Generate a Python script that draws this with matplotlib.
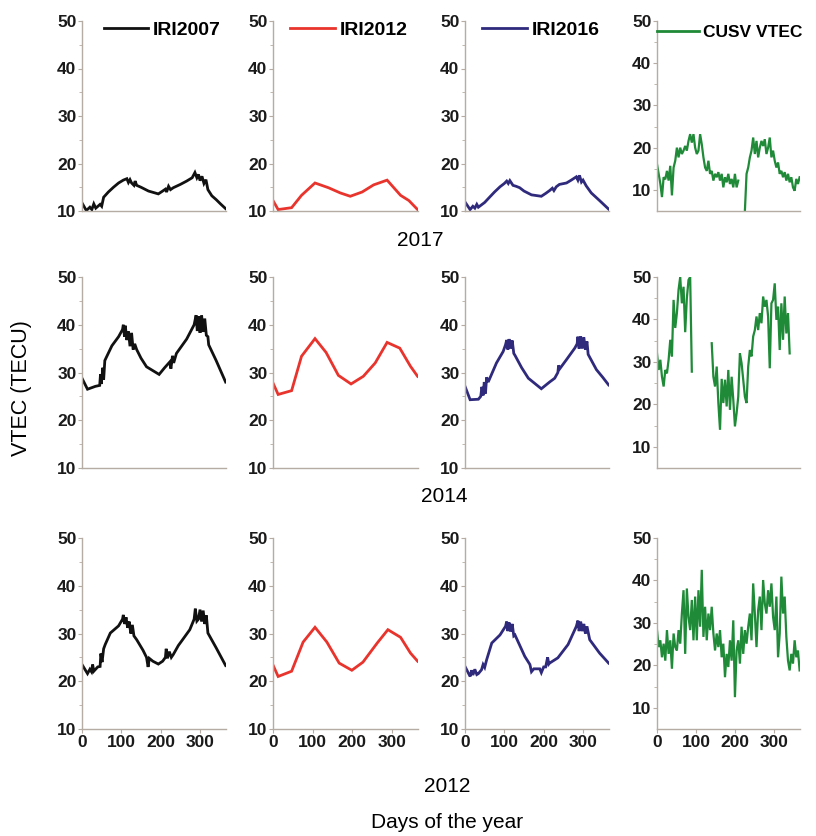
import matplotlib.pyplot as plt
import numpy as np

nan = np.nan

# ---- IRI2007 (black) ----
d07_2017 = [0, 11, 20, 25, 30, 35, 46, 50, 55, 67, 80, 93, 105, 114, 118, 122, 126, 132, 135, 139, 150, 169, 194, 205, 212, 215, 220, 225, 232, 250, 266, 280, 287, 292, 296, 300, 305, 310, 315, 320, 330, 341, 352, 365]
v07_2017 = [11.7, 10.1, 10.8, 10.3, 11.5, 10.6, 11.4, 11.0, 12.9, 14.0, 15.0, 15.9, 16.5, 16.8, 16.0, 16.6, 15.9, 15.4, 16.3, 15.4, 15.0, 14.2, 13.6, 14.2, 14.6, 14.0, 15.2, 14.5, 14.9, 15.6, 16.3, 17.0, 18.1, 17.0, 17.7, 16.4, 17.3, 15.8, 16.6, 14.5, 13.2, 12.4, 11.5, 10.5]
d07_2014 = [0, 14, 34, 45, 47, 49, 53, 55, 58, 62, 76, 93, 103, 105, 108, 110, 114, 118, 122, 126, 130, 134, 139, 150, 164, 196, 210, 223, 226, 230, 233, 240, 266, 285, 290, 293, 297, 300, 304, 308, 312, 316, 320, 322, 341, 365]
v07_2014 = [28.8, 26.5, 27.1, 27.3, 29.6, 27.6, 31.0, 28.5, 32.5, 33.2, 35.6, 37.5, 39.0, 40.0, 37.5, 39.8, 36.8, 38.6, 35.5, 38.3, 34.8, 36.0, 34.8, 33.0, 31.2, 29.6, 31.0, 32.2, 30.8, 33.5, 32.0, 34.0, 37.0, 40.0, 42.0, 38.7, 41.8, 38.3, 42.0, 38.5, 41.3, 37.8, 37.5, 35.8, 32.5, 28.0]
d07_2012 = [0, 14, 20, 24, 27, 30, 40, 46, 48, 51, 55, 59, 72, 93, 103, 105, 108, 112, 116, 120, 124, 128, 132, 139, 155, 164, 168, 171, 180, 194, 205, 212, 214, 217, 222, 227, 232, 245, 253, 274, 285, 288, 292, 296, 300, 304, 308, 312, 316, 320, 341, 365]
v07_2012 = [23.5, 21.6, 22.5, 22.0, 23.5, 22.1, 23.0, 23.1, 25.8, 24.0, 26.8, 27.7, 30.1, 31.6, 33.0, 33.9, 32.0, 33.4, 31.2, 32.5, 30.0, 31.8, 29.5, 28.7, 26.5, 25.0, 23.0, 24.8, 24.2, 23.6, 24.2, 25.0, 26.8, 24.8, 26.2, 25.0, 25.6, 27.5, 28.4, 30.8, 33.0, 35.2, 32.6, 33.0, 35.0, 32.5, 34.8, 32.0, 33.8, 30.1, 27.0, 23.3]

# ---- IRI2012 (red) ----
d12_2017 = [0, 13, 47, 72, 106, 140, 170, 195, 225, 254, 288, 322, 343, 365]
v12_2017 = [12.2, 10.3, 10.7, 13.3, 15.9, 14.9, 13.8, 13.1, 14.0, 15.5, 16.5, 13.3, 12.2, 10.3]
d12_2014 = [0, 13, 47, 72, 106, 134, 165, 197, 228, 258, 288, 320, 347, 365]
v12_2014 = [27.8, 25.4, 26.2, 33.4, 37.1, 34.2, 29.4, 27.6, 29.2, 32.0, 36.3, 35.1, 31.3, 29.2]
d12_2012 = [0, 13, 47, 76, 106, 136, 167, 199, 227, 263, 290, 322, 347, 365]
v12_2012 = [23.4, 21.0, 22.1, 28.2, 31.3, 28.2, 23.8, 22.3, 24.0, 28.0, 30.8, 29.2, 25.9, 24.2]

# ---- IRI2016 (blue) ----
d16_2017 = [0, 13, 20, 25, 30, 34, 42, 50, 59, 75, 89, 100, 106, 110, 114, 122, 130, 139, 150, 169, 194, 205, 215, 222, 226, 232, 240, 258, 270, 283, 287, 291, 296, 300, 308, 321, 342, 365]
v16_2017 = [11.9, 10.3, 11.0, 10.6, 11.4, 10.8, 11.3, 11.8, 12.6, 14.0, 15.1, 15.8, 16.3, 15.8, 16.4, 15.4, 15.2, 14.9, 14.2, 13.4, 13.1, 13.7, 14.3, 14.8, 14.3, 15.1, 15.6, 15.9, 16.5, 17.2, 16.5, 17.5, 16.1, 16.5, 15.3, 13.8, 12.2, 10.4]
d16_2014 = [0, 13, 34, 40, 43, 46, 49, 52, 55, 59, 80, 97, 103, 106, 109, 112, 116, 120, 124, 127, 144, 161, 194, 215, 228, 236, 238, 241, 258, 279, 285, 287, 290, 294, 298, 302, 306, 310, 313, 334, 350, 365]
v16_2014 = [27.1, 24.3, 24.4, 25.0, 27.0, 25.2, 28.0, 25.6, 29.0, 28.0, 32.0, 34.4, 35.8, 36.8, 34.8, 37.0, 35.0, 36.7, 34.0, 33.6, 31.0, 28.8, 26.6, 28.0, 28.8, 30.0, 31.5, 30.8, 32.7, 35.1, 36.0, 37.5, 35.0, 37.6, 35.0, 37.4, 34.8, 36.5, 33.8, 30.6, 29.0, 27.4]
d16_2012 = [0, 13, 17, 20, 25, 30, 34, 42, 46, 50, 55, 68, 89, 103, 106, 109, 112, 116, 120, 124, 127, 152, 165, 169, 175, 190, 194, 200, 205, 210, 213, 215, 236, 262, 283, 287, 290, 294, 298, 302, 306, 310, 317, 342, 365]
v16_2012 = [23.1, 21.0, 22.3, 21.3, 22.5, 21.4, 21.6, 22.4, 23.5, 22.9, 24.5, 28.0, 29.7, 31.5, 32.5, 30.5, 32.3, 30.4, 32.0, 29.5, 29.7, 25.2, 23.5, 22.0, 22.6, 22.6, 21.8, 23.0, 23.0, 25.0, 23.6, 23.8, 24.9, 27.7, 31.5, 32.7, 30.5, 32.5, 30.5, 32.0, 30.0, 31.5, 28.7, 25.9, 23.8]

# ---- CUSV VTEC (green), sampled every ~4.2 days ----
cusv_2017 = [16.1, 13.8, 11.5, 8.3, 13.0, 12.5, 14.5, 12.2, 15.7, 8.7, 15.3, 16.9, 20.0, 17.7, 20.0, 18.5, 19.3, 20.4, 19.3, 21.6,
             23.2, 21.2, 23.2, 20.0, 18.5, 19.3, 23.2, 20.8, 17.7, 15.3, 14.5, 16.9, 13.8, 14.5, 12.2, 13.8, 13.0, 14.2, 12.2, 13.8,
             10.6, 13.0, 11.8, 13.8, 11.4, 12.6, 10.6, 13.8, 10.6, 12.2, nan, nan, nan, 5.0, 13.8, 15.3, 17.7, 19.3, 22.4, 18.5,
             21.6, 17.7, 20.0, 21.6, 20.4, 22.0, 18.5, 20.0, 22.4, 17.7, 19.3, 16.9, 15.3, 16.5, 13.8, 14.5, 13.0, 14.2, 12.2, 13.8,
             11.8, 13.0, 10.6, 9.8, 12.6, 11.4, 13.0]
cusv_2014 = [32.0, 28.1, 30.5, 26.5, 24.2, 28.1, 27.3, 30.5, 35.2, 31.3, 44.6, 38.0, 41.5, 47.0, 50.0, 43.8, 47.7, 37.0, 45.0, 49.3,
             50.0, 27.7, nan, nan, nan, nan, nan, nan, nan, nan, nan, nan, nan, 34.4, 26.5, 24.2, 28.9, 20.3, 14.0, 26.0,
             20.3, 25.8, 19.5, 28.1, 18.7, 26.5, 21.1, 14.8, 17.9, 21.8, 32.0, 29.7, 25.8, 21.8, 20.3, 28.9, 32.8, 31.3, 36.0, 37.5,
             40.7, 37.5, 41.5, 39.1, 45.4, 43.0, 44.6, 40.7, 28.5, 43.8, 44.6, 48.5, 39.9, 43.0, 32.8, 43.8, 35.2, 45.4, 36.7, 41.5,
             32.0, nan, nan, nan, nan, nan, nan]
cusv_2012 = [28.3, 24.3, 25.9, 21.9, 25.1, 21.1, 28.3, 22.7, 25.9, 19.2, 27.5, 24.3, 23.5, 28.3, 25.1, 32.2, 37.7, 22.7, 38.1, 31.4,
             28.3, 35.4, 25.9, 36.2, 25.9, 37.7, 29.1, 42.5, 26.7, 33.8, 25.9, 32.2, 28.3, 33.8, 27.5, 23.5, 27.5, 24.3, 28.3, 21.9,
             25.1, 17.2, 22.7, 19.6, 25.9, 21.1, 30.6, 12.5, 23.5, 25.9, 20.4, 29.1, 22.7, 28.3, 25.1, 29.1, 32.2, 25.9, 39.3, 32.2,
             24.3, 33.0, 36.2, 28.3, 40.1, 34.6, 32.2, 37.7, 33.8, 39.3, 31.4, 28.3, 36.2, 21.9, 27.5, 40.9, 32.2, 36.2, 26.7, 21.1,
             18.8, 22.7, 20.4, 25.9, 21.9, 23.5, 18.8]
cusv_days = np.linspace(0, 365, len(cusv_2012))

years = ['2017', '2014', '2012']
labels = ['IRI2007', 'IRI2012', 'IRI2016', 'CUSV VTEC']
colors = ['#111111', '#e8342c', '#2f2a7c', '#1f8a37']

series = [
    [(d07_2017, v07_2017), (d12_2017, v12_2017), (d16_2017, v16_2017), (cusv_days, cusv_2017)],
    [(d07_2014, v07_2014), (d12_2014, v12_2014), (d16_2014, v16_2014), (cusv_days, cusv_2014)],
    [(d07_2012, v07_2012), (d12_2012, v12_2012), (d16_2012, v16_2012), (cusv_days, cusv_2012)],
]

W, H = 816, 836
cols = [(82, 226), (273, 418), (465, 609), (657, 800)]
rows = [(21, 211), (277, 468), (538, 729)]

plt.rcParams['font.family'] = ['Liberation Sans', 'DejaVu Sans']
fig = plt.figure(figsize=(W / 100, H / 100), dpi=100)

spine_col = '#b5aca4'
for i, (t, b) in enumerate(rows):
    for j, (l, r) in enumerate(cols):
        ax = fig.add_axes([l / W, 1 - b / H, (r - l) / W, (b - t) / H])
        x, y = series[i][j]
        lw = 1.6 if j == 3 else 2.0
        ax.plot(x, y, color=colors[j], lw=lw, label=labels[j], solid_joinstyle='miter')
        ax.set_xlim(0, 366)
        if j == 3:
            ax.set_ylim(5, 50)
        else:
            ax.set_ylim(10, 50)
        ax.set_yticks([10, 20, 30, 40, 50])
        ax.set_yticks([15, 25, 35, 45], minor=True)
        ax.set_xticks([0, 100, 200, 300])
        for s in ['top', 'right']:
            ax.spines[s].set_visible(False)
        for s in ['left', 'bottom']:
            ax.spines[s].set_color(spine_col)
            ax.spines[s].set_linewidth(1.0)
        ax.tick_params(axis='both', which='major', length=3, width=0.8, color=spine_col,
                       labelsize=12.5, pad=1, labelcolor='#1a1a1a')
        ax.tick_params(axis='y', which='minor', length=2, width=0.6, color=spine_col)
        for lab in ax.get_yticklabels() + ax.get_xticklabels():
            lab.set_fontweight('bold')
        if i < 2:
            ax.tick_params(axis='x', labelbottom=False, length=0)
        if i == 0:
            x0 = 0.0 if j == 3 else (0.15 if j == 0 else 0.12)
            y0 = 0.942 if j == 3 else 0.95
            fs = 12.5 if j == 3 else 14
            hl = 2.4 if j == 3 else 2.3
            leg = ax.legend(loc='center left', bbox_to_anchor=(x0, y0), frameon=False,
                            handlelength=hl, handletextpad=0.25, borderpad=0, borderaxespad=0,
                            prop={'weight': 'bold', 'size': fs})
            for h in leg.get_lines():
                h.set_linewidth(2.0)

fig.text(420 / W, 1 - 241 / H, years[0], ha='center', va='center', fontsize=15)
fig.text(444 / W, 1 - 497 / H, years[1], ha='center', va='center', fontsize=15)
fig.text(447 / W, 1 - 787 / H, years[2], ha='center', va='center', fontsize=15)
fig.text(447 / W, 1 - 823 / H, 'Days of the year', ha='center', va='center', fontsize=15)
fig.text(22 / W, 1 - 388 / H, 'VTEC (TECU)', ha='center', va='center', rotation=90, fontsize=15.5)

fig.savefig('out.png', dpi=100, facecolor='white')
